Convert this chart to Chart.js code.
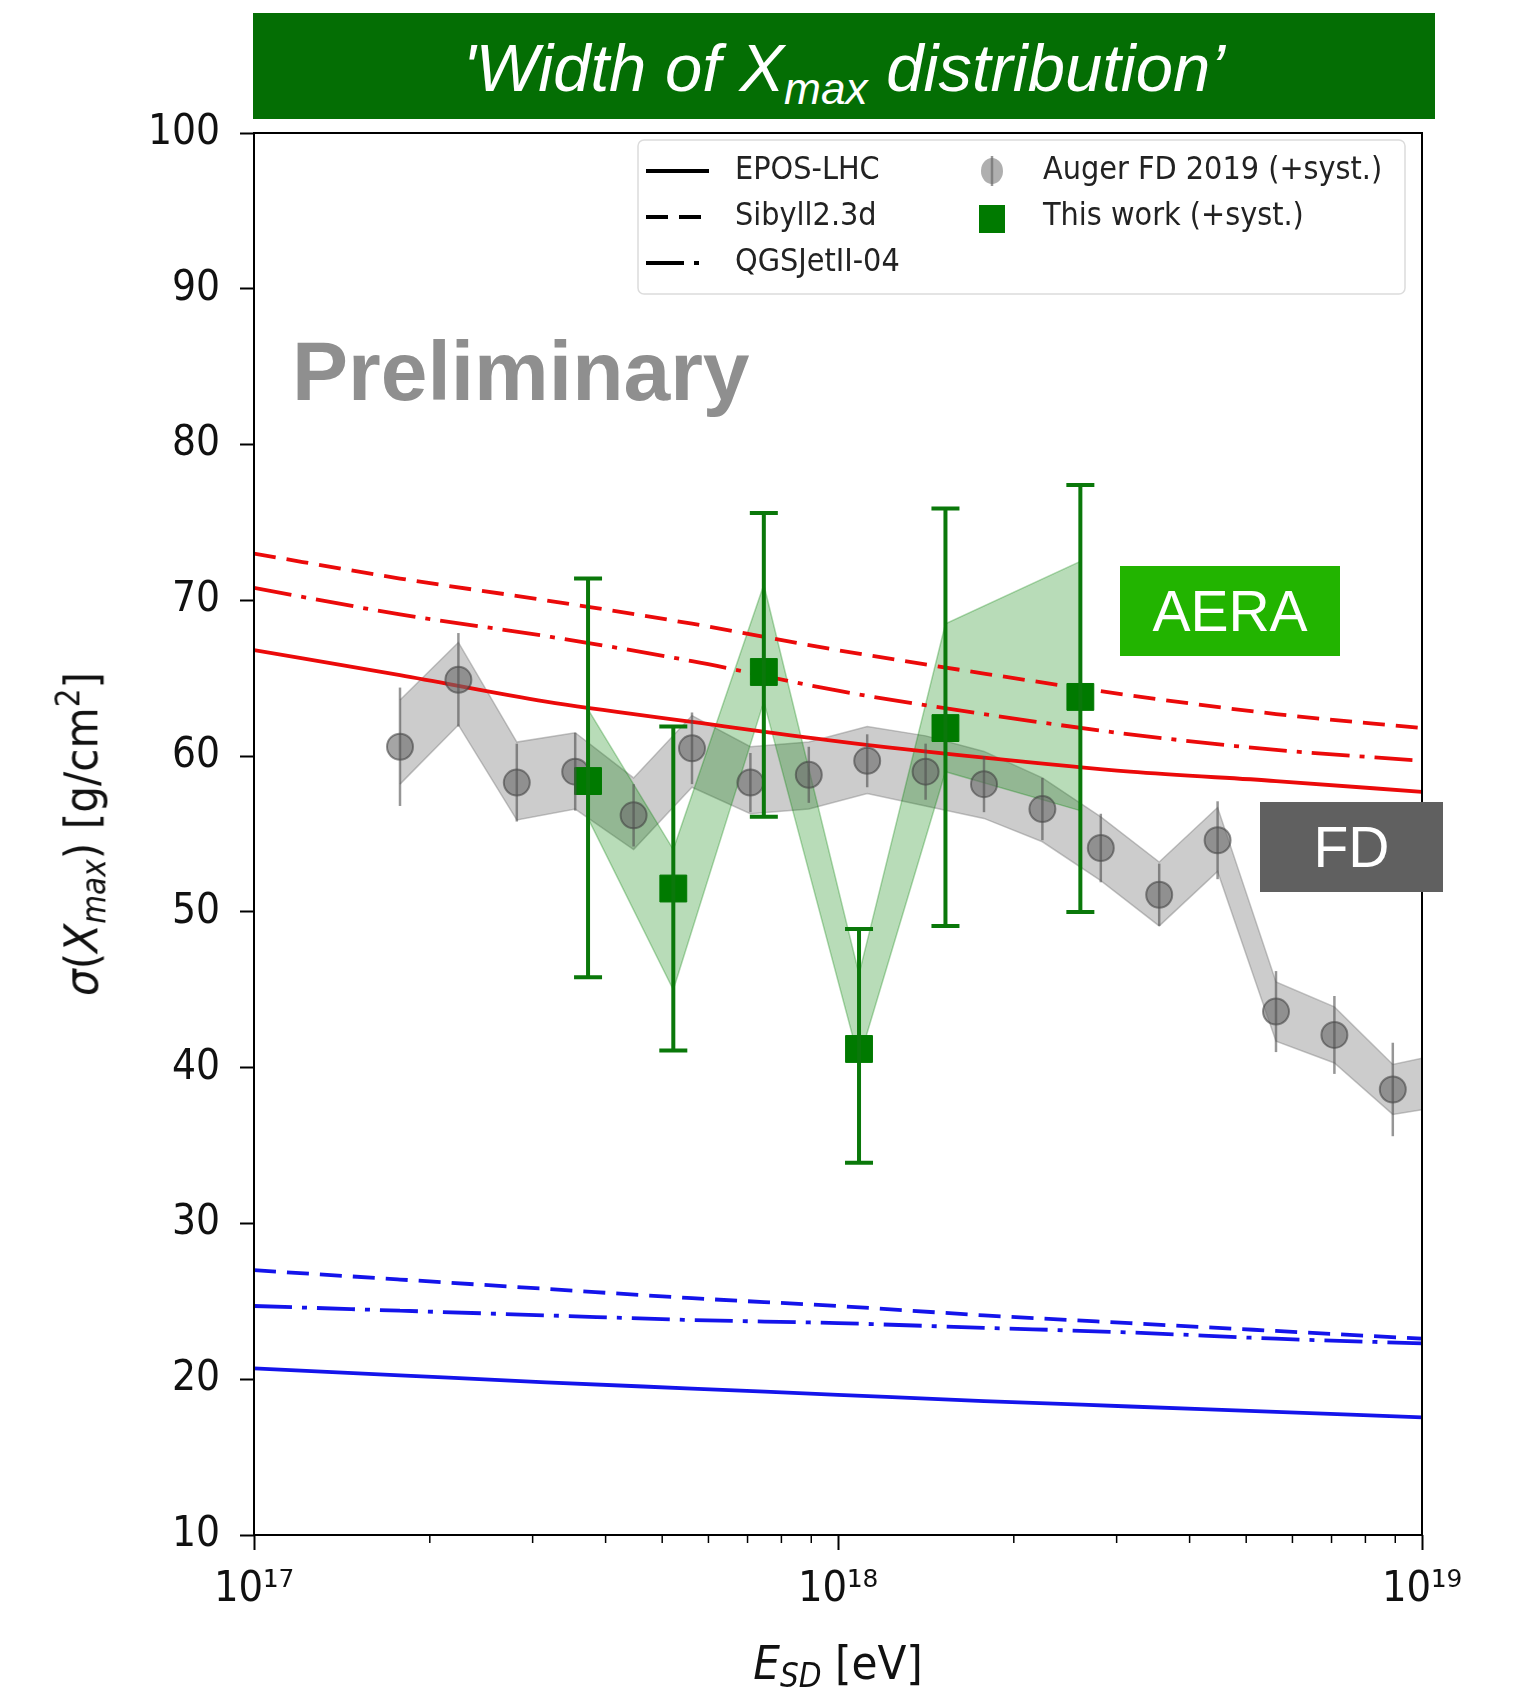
<!DOCTYPE html>
<html>
<head>
<meta charset="utf-8">
<script src="https://cdn.jsdelivr.net/npm/chart.js@4.4.1/dist/chart.umd.min.js"></script>
<style>
  body { margin: 0; background: #fff; }
  #wrap { position: relative; width: 1527px; height: 1694px; }
  #chart { position: absolute; left: 0; top: 0; }
  .box { position: absolute; display: flex; align-items: center; justify-content: center;
         color: #fff; font-family: 'Liberation Sans', Arial, sans-serif; }
  #title { left: 253px; top: 13px; width: 1182px; height: 106px; background: #046e04;
           font-size: 67px; font-style: italic; padding-top: 9px; box-sizing: border-box; }
  #title sub { font-size: 0.66em; vertical-align: -0.3em; line-height: 1; }
  #aera { left: 1120px; top: 566px; width: 220px; height: 90px; background: #22b400; font-size: 57px; }
  #fd { left: 1260px; top: 802px; width: 183px; height: 90px; background: #606060; font-size: 57px; }
  #prelim { position: absolute; left: 292px; top: 329px; font-family: 'Liberation Sans', Arial, sans-serif;
            font-weight: bold; font-size: 84px; line-height: 1; color: #8f8f8f; }
  .axlab { position: absolute; white-space: nowrap; color: #111; line-height: 1;
           font-family: 'DejaVu Sans Condensed', 'DejaVu Sans', sans-serif; font-size: 47px; }
  .axlab sub { font-size: 0.7em; vertical-align: -0.25em; }
  .axlab sup { font-size: 0.7em; vertical-align: 0.55em; }
  #ylab { left: 82px; top: 834px; transform: translate(-50%, -50%) rotate(-90deg); }
  #xlab { left: 838px; top: 1666px; transform: translate(-50%, -50%); }
</style>
</head>
<body>
<div id="wrap">
  <canvas id="chart" width="1527" height="1694"></canvas>
  <div id="title" class="box"><span>'Width of X<sub>max</sub> distribution’</span></div>
  <div id="prelim">Preliminary</div>
  <div id="aera" class="box">AERA</div>
  <div id="fd" class="box">FD</div>
  <div id="ylab" class="axlab"><i>σ</i>(<i>X<sub>max</sub></i>) [g/cm<sup>2</sup>]</div>
  <div id="xlab" class="axlab"><i>E<sub>SD</sub></i> [eV]</div>
</div>
<script>
// Auger FD 2019 (log10 E, sigma, stat. error, syst. band)
var fdLogE  = [17.25, 17.35, 17.45, 17.55, 17.65, 17.75, 17.85, 17.95, 18.05, 18.15, 18.25, 18.35, 18.45, 18.55, 18.65, 18.75, 18.85, 18.95, 19.05];
var fdSigma = [60.6, 64.9, 58.3, 59.0, 56.2, 60.5, 58.3, 58.8, 59.7, 59.0, 58.2, 56.6, 54.1, 51.1, 54.6, 43.6, 42.1, 38.6, 39.0];
var fdStat  = [3.8, 3.0, 2.5, 2.5, 2.0, 2.3, 1.9, 1.8, 1.7, 1.8, 1.8, 2.0, 2.2, 2.0, 2.5, 2.6, 2.5, 3.0, 2.8];
var fdSysHi = [63.6, 67.3, 60.9, 61.5, 58.6, 62.6, 60.6, 60.9, 61.9, 61.3, 60.3, 58.6, 56.1, 53.2, 56.7, 45.5, 43.9, 40.2, 41.0];
var fdSysLo = [58.2, 62.0, 55.9, 56.6, 54.0, 58.0, 56.3, 56.6, 57.6, 56.8, 56.0, 54.5, 52.0, 49.1, 52.6, 41.7, 40.3, 37.0, 37.6];

// This work (AERA)
var awLogE  = [17.572, 17.718, 17.873, 18.036, 18.184, 18.415];
var awSigma = [58.4, 51.5, 65.4, 41.2, 61.8, 63.8];
var awErrHi = [71.4, 61.9, 75.6, 48.9, 75.9, 77.4];
var awErrLo = [45.8, 41.1, 56.1, 33.9, 49.1, 50.0];
var awSysHi = [63.0, 54.0, 71.0, 46.0, 68.5, 72.5];
var awSysLo = [56.0, 45.0, 63.5, 40.5, 59.0, 56.5];

// hadronic model predictions (proton red, iron blue)
var modelLogE = [17.0, 17.25, 17.5, 17.75, 18.0, 18.25, 18.5, 18.75, 19.0];
var eposP    = [66.8, 65.2, 63.5, 62.2, 60.95, 59.9, 59.0, 58.4, 57.7];
var sibyllP  = [73.0, 71.4, 70.0, 68.5, 66.8, 65.3, 63.9, 62.7, 61.8];
var qgsjetP  = [70.8, 69.1, 67.7, 66.1, 64.2, 62.7, 61.4, 60.4, 59.7];
var eposFe   = [20.7, 20.25, 19.8, 19.4, 19.0, 18.6, 18.25, 17.9, 17.55];
var sibyllFe = [27.0, 26.4, 25.8, 25.2, 24.7, 24.1, 23.6, 23.1, 22.6];
var qgsjetFe = [24.7, 24.4, 24.1, 23.8, 23.6, 23.3, 23.0, 22.6, 22.3];

var xMajor = [17, 18, 19];
var yTicks = [10, 20, 30, 40, 50, 60, 70, 80, 90, 100];

var RED = 'rgb(235,10,10)';
var BLUE = 'rgb(20,20,235)';
var DASH = [22, 11];
var DASHDOT = [38, 10, 5, 10];
var FONT = "'DejaVu Sans Condensed', 'DejaVu Sans', sans-serif";

function pts(xs, ys) {
  return xs.map(function (x, i) { return { x: x, y: ys[i] }; });
}

function model(vals, color, dash) {
  return {
    data: pts(modelLogE, vals), borderColor: color, borderWidth: 3.8, borderDash: dash,
    pointRadius: 0, fill: false, cubicInterpolationMode: 'monotone', order: 3
  };
}

var SUP = { '0': '⁰', '1': '¹', '2': '²', '3': '³', '4': '⁴', '5': '⁵', '6': '⁶', '7': '⁷', '8': '⁸', '9': '⁹' };

var decor = {
  id: 'decor',
  afterDatasetsDraw: function (chart) {
    var ctx = chart.ctx, xs = chart.scales.x, ys = chart.scales.y, a = chart.chartArea;
    ctx.save();
    ctx.beginPath();
    ctx.rect(a.left, a.top, a.right - a.left, a.bottom - a.top);
    ctx.clip();
    // FD statistical errors
    ctx.strokeStyle = 'rgba(80,80,80,0.6)';
    ctx.lineWidth = 2.5;
    fdLogE.forEach(function (e, i) {
      var px = xs.getPixelForValue(e);
      ctx.beginPath();
      ctx.moveTo(px, ys.getPixelForValue(fdSigma[i] - fdStat[i]));
      ctx.lineTo(px, ys.getPixelForValue(fdSigma[i] + fdStat[i]));
      ctx.stroke();
    });
    // AERA errors with caps
    ctx.strokeStyle = '#0a780a';
    ctx.lineWidth = 4;
    awLogE.forEach(function (e, i) {
      var px = xs.getPixelForValue(e);
      var hi = ys.getPixelForValue(awErrHi[i]), lo = ys.getPixelForValue(awErrLo[i]);
      ctx.beginPath();
      ctx.moveTo(px, lo); ctx.lineTo(px, hi);
      ctx.moveTo(px - 14, hi); ctx.lineTo(px + 14, hi);
      ctx.moveTo(px - 14, lo); ctx.lineTo(px + 14, lo);
      ctx.stroke();
    });
    ctx.restore();
  },
  afterDraw: function (chart) {
    var ctx = chart.ctx, xs = chart.scales.x, a = chart.chartArea;
    ctx.save();
    // frame
    ctx.strokeStyle = '#000';
    ctx.lineWidth = 2;
    ctx.strokeRect(a.left, a.top, a.right - a.left, a.bottom - a.top);
    // minor log ticks
    ctx.lineWidth = 1.5;
    [17, 18].forEach(function (d) {
      for (var k = 2; k <= 9; k++) {
        var px = xs.getPixelForValue(d + Math.log10(k));
        ctx.beginPath();
        ctx.moveTo(px, a.bottom); ctx.lineTo(px, a.bottom + 8);
        ctx.stroke();
      }
    });
    // legend
    ctx.fillStyle = 'rgba(255,255,255,0.85)';
    ctx.strokeStyle = '#dcdcdc';
    ctx.lineWidth = 1.5;
    ctx.beginPath();
    ctx.roundRect(638, 140, 767, 154, 6);
    ctx.fill();
    ctx.stroke();
    var rows = [171, 217, 263];
    var styles = [[], [22, 11], [38, 10, 5, 10]];
    var names = ['EPOS-LHC', 'Sibyll2.3d', 'QGSJetII-04'];
    ctx.font = '32px ' + FONT;
    ctx.textBaseline = 'middle';
    ctx.lineWidth = 4;
    rows.forEach(function (y, i) {
      ctx.strokeStyle = '#000';
      ctx.setLineDash(styles[i]);
      ctx.beginPath();
      ctx.moveTo(646, y); ctx.lineTo(709, y);
      ctx.stroke();
      ctx.fillStyle = '#222';
      ctx.fillText(names[i], 735, y);
    });
    ctx.setLineDash([]);
    // FD marker
    ctx.strokeStyle = 'rgba(80,80,80,0.6)';
    ctx.lineWidth = 2.5;
    ctx.beginPath();
    ctx.moveTo(992, 156); ctx.lineTo(992, 186);
    ctx.stroke();
    ctx.fillStyle = 'rgba(110,110,110,0.55)';
    ctx.beginPath();
    ctx.ellipse(992, 171, 11, 13, 0, 0, Math.PI * 2);
    ctx.fill();
    // AERA marker
    ctx.fillStyle = '#007a00';
    ctx.fillRect(979, 205, 26, 28);
    ctx.fillStyle = '#222';
    ctx.fillText('Auger FD 2019 (+syst.)', 1043, 171);
    ctx.fillText('This work (+syst.)', 1043, 217);
    ctx.restore();
  }
};

new Chart(document.getElementById('chart'), {
  type: 'line',
  data: {
    datasets: [
      { data: pts(fdLogE, fdSigma), showLine: false, pointRadius: 13, pointStyle: 'circle',
        backgroundColor: 'rgba(105,105,105,0.6)', borderColor: 'rgba(60,60,60,0.55)', borderWidth: 2, order: 1 },
      { data: pts(awLogE, awSigma), showLine: false, pointRadius: 19, pointStyle: 'rect',
        backgroundColor: '#007a00', borderColor: '#007a00', borderWidth: 1, order: 0 },
      model(eposP, RED, []),
      model(sibyllP, RED, DASH),
      model(qgsjetP, RED, DASHDOT),
      model(eposFe, BLUE, []),
      model(sibyllFe, BLUE, DASH),
      model(qgsjetFe, BLUE, DASHDOT),
      { data: pts(fdLogE, fdSysHi), fill: '+1', backgroundColor: 'rgba(128,128,128,0.4)',
        borderColor: 'rgba(128,128,128,0.45)', borderWidth: 1.5, pointRadius: 0, tension: 0, order: 6 },
      { data: pts(fdLogE, fdSysLo), fill: false, borderColor: 'rgba(128,128,128,0.45)', borderWidth: 1.5,
        pointRadius: 0, tension: 0, order: 6 },
      { data: pts(awLogE, awSysHi), fill: '+1', backgroundColor: 'rgba(0,128,0,0.28)',
        borderColor: 'rgba(0,128,0,0.3)', borderWidth: 1.5, pointRadius: 0, tension: 0, order: 5 },
      { data: pts(awLogE, awSysLo), fill: false, borderColor: 'rgba(0,128,0,0.3)', borderWidth: 1.5,
        pointRadius: 0, tension: 0, order: 5 }
    ]
  },
  options: {
    responsive: false,
    animation: false,
    devicePixelRatio: 1,
    layout: { padding: { left: 0, top: 133, right: 105, bottom: 0 } },
    plugins: { legend: { display: false }, tooltip: { enabled: false } },
    scales: {
      x: {
        type: 'linear', min: 17, max: 19,
        afterBuildTicks: function (s) { s.ticks = xMajor.map(function (v) { return { value: v }; }); },
        afterFit: function (s) { s.height = 159; },
        grid: { drawOnChartArea: false, tickLength: 15, tickColor: '#000', tickWidth: 2 },
        border: { display: false },
        ticks: {
          padding: 14, color: '#111', font: { family: FONT, size: 43 }, maxRotation: 0,
          callback: function (v) { return '10' + String(v).split('').map(function (c) { return SUP[c]; }).join(''); }
        }
      },
      y: {
        type: 'linear', min: 10, max: 100,
        afterBuildTicks: function (s) { s.ticks = yTicks.map(function (v) { return { value: v }; }); },
        afterFit: function (s) { s.width = 254; },
        grid: { drawOnChartArea: false, tickLength: 14, tickColor: '#000', tickWidth: 2 },
        border: { display: false },
        ticks: { padding: 20, color: '#111', font: { family: FONT, size: 42 } }
      }
    }
  },
  plugins: [decor]
});
</script>
</body>
</html>
